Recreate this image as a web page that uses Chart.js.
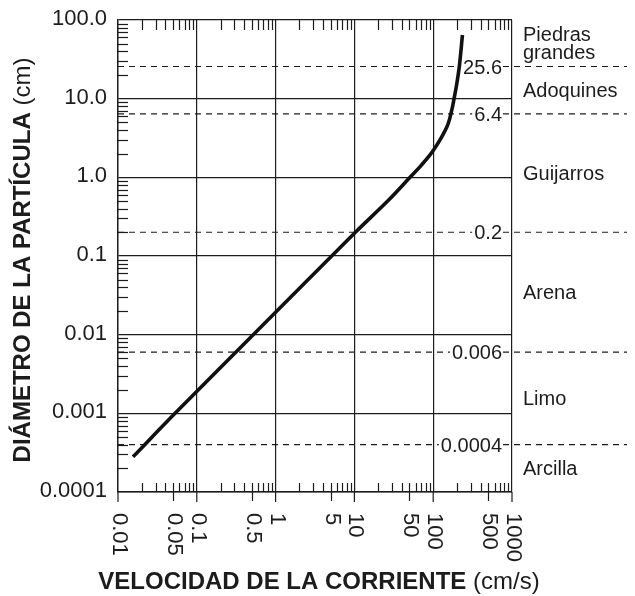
<!DOCTYPE html>
<html>
<head>
<meta charset="utf-8">
<script src="https://cdn.jsdelivr.net/npm/chart.js@4.4.1/dist/chart.umd.min.js"></script>
<style>
  html, body { margin: 0; padding: 0; background: #fff; }
  canvas { display: block; }
</style>
</head>
<body>
<canvas id="chart" width="635" height="596"></canvas>
<script>
// curva: velocidad de la corriente (cm/s) -> diámetro de la partícula (cm)
const velocity = [0.0155, 0.053, 0.52, 10.3, 27, 50.8, 70, 100.6, 149, 172, 184, 199.5, 215, 235];
const diameter = [0.00028, 0.001, 0.01, 0.2, 0.51, 1, 1.41, 2.21, 4.37, 7.14, 10, 15.6, 26.2, 64.4];

// límites entre clases (líneas discontinuas)
const boundaries = [25.6, 6.4, 0.2, 0.006, 0.0004];
const boundaryLabels = ["25.6", "6.4", "0.2", "0.006", "0.0004"];

// clases de sedimento, con su límite superior e inferior
const classNames = [["Piedras", "grandes"], ["Adoquines"], ["Guijarros"], ["Arena"], ["Limo"], ["Arcilla"]];
const classTop = [100, 25.6, 6.4, 0.2, 0.006, 0.0004];
const classBottom = [25.6, 6.4, 0.2, 0.006, 0.0004, 0.0001];

const xTickValues = [0.01, 0.05, 0.1, 0.5, 1, 5, 10, 50, 100, 500, 1000];
const xTickLabels = ["0.01", "0.05", "0.1", "0.5", "1", "5", "10", "50", "100", "500", "1000"];
const yTickValues = [100, 10, 1, 0.1, 0.01, 0.001, 0.0001];
const yTickLabels = ["100.0", "10.0", "1.0", "0.1", "0.01", "0.001", "0.0001"];

const FONT = '"Liberation Sans", Arial, Helvetica, sans-serif';
const INK = "#1c1c1c";

function isDecade(v) {
  const l = Math.log10(v);
  return Math.abs(l - Math.round(l)) < 1e-6;
}

// valores 2..9 de cada década
function minorValues(min, max) {
  const out = [];
  for (let e = Math.round(Math.log10(min)); e < Math.round(Math.log10(max)); e++) {
    for (let m = 2; m <= 9; m++) out.push({ v: m * Math.pow(10, e), m: m });
  }
  return out;
}

function line(ctx, x1, y1, x2, y2) {
  ctx.beginPath();
  ctx.moveTo(x1, y1);
  ctx.lineTo(x2, y2);
  ctx.stroke();
}

// dibuja un texto con una parte en negrita y otra normal
function mixedText(ctx, bold, normal, size) {
  ctx.font = "bold " + size + "px " + FONT;
  const wb = ctx.measureText(bold).width;
  ctx.font = size + "px " + FONT;
  const wn = ctx.measureText(normal).width;
  let x = -(wb + wn) / 2;
  ctx.textAlign = "left";
  ctx.font = "bold " + size + "px " + FONT;
  ctx.fillText(bold, x, 0);
  ctx.font = size + "px " + FONT;
  ctx.fillText(normal, x + wb, 0);
}

const sedimentPlugin = {
  id: "sediment",
  beforeDatasetsDraw(chart) {
    const { ctx, chartArea: a, scales: { y } } = chart;
    ctx.save();
    // líneas discontinuas de los límites
    ctx.strokeStyle = INK;
    ctx.lineWidth = 1.1;
    ctx.setLineDash([6, 5]);
    boundaries.forEach(b => {
      const py = y.getPixelForValue(b);
      line(ctx, a.left, py, chart.width - 8, py);
    });
    ctx.setLineDash([]);
    // etiquetas de los límites, dentro del gráfico
    ctx.font = "20px " + FONT;
    ctx.textAlign = "right";
    ctx.textBaseline = "alphabetic";
    boundaries.forEach((b, i) => {
      const py = y.getPixelForValue(b);
      const w = ctx.measureText(boundaryLabels[i]).width;
      const xr = a.right - 10;
      ctx.fillStyle = "#fff";
      ctx.fillRect(xr - w - 2, py - 9, w + 3, 18);
      ctx.fillStyle = INK;
      ctx.fillText(boundaryLabels[i], xr, py + 7);
    });
    ctx.restore();
  },
  afterDraw(chart) {
    const { ctx, chartArea: a, scales: { x, y } } = chart;
    ctx.save();
    ctx.strokeStyle = INK;
    ctx.lineWidth = 1.2;

    // marcas menores hacia dentro
    minorValues(y.min, y.max).forEach(t => {
      const py = Math.round(y.getPixelForValue(t.v)) + 0.5;
      line(ctx, a.left, py, a.left + 10, py);
    });
    minorValues(x.min, x.max).forEach(t => {
      const px = Math.round(x.getPixelForValue(t.v)) + 0.5;
      line(ctx, px, a.top, px, a.top + 10);
      line(ctx, px, a.bottom, px, a.bottom - 9);
      if (t.m === 5) line(ctx, px, a.bottom, px, a.bottom + 9);
    });
    // marcas mayores bajo el eje x
    xTickValues.filter(isDecade).forEach(v => {
      const px = x.getPixelForValue(v);
      line(ctx, px, a.bottom, px, a.bottom + 10);
    });

    ctx.fillStyle = INK;
    // etiquetas del eje y
    ctx.font = "22px " + FONT;
    ctx.textAlign = "right";
    ctx.textBaseline = "alphabetic";
    yTickValues.forEach((v, i) => {
      ctx.fillText(yTickLabels[i], a.left - 11, y.getPixelForValue(v) + 5);
    });

    // etiquetas del eje x, giradas 90° (se leen de arriba abajo)
    ctx.font = "22px " + FONT;
    ctx.textAlign = "left";
    ctx.textBaseline = "middle";
    xTickValues.forEach((v, i) => {
      ctx.save();
      ctx.translate(x.getPixelForValue(v) + 1, a.bottom + 21);
      ctx.rotate(Math.PI / 2);
      ctx.fillText(xTickLabels[i], 0, 0);
      ctx.restore();
    });

    // nombres de las clases a la derecha
    ctx.font = "20px " + FONT;
    ctx.textAlign = "left";
    ctx.textBaseline = "alphabetic";
    classNames.forEach((lines, i) => {
      const mid = Math.sqrt(classTop[i] * classBottom[i]);
      const py = y.getPixelForValue(mid);
      const lh = 18;
      const y0 = py - (lines.length - 1) * lh / 2 + 7;
      lines.forEach((t, j) => ctx.fillText(t, a.right + 11, y0 + j * lh));
    });

    // títulos de los ejes
    ctx.textBaseline = "alphabetic";
    ctx.save();
    ctx.translate((a.left + a.right) / 2 + 4, 589);
    mixedText(ctx, "VELOCIDAD DE LA CORRIENTE", " (cm/s)", 24);
    ctx.restore();

    ctx.save();
    ctx.translate(30, 260);
    ctx.rotate(-Math.PI / 2);
    mixedText(ctx, "DIÁMETRO DE LA PARTÍCULA", " (cm)", 24);
    ctx.restore();

    ctx.restore();
  }
};

const axisGrid = {
  color: INK,
  lineWidth: 1.2,
  drawTicks: false
};

new Chart(document.getElementById("chart"), {
  type: "line",
  data: {
    datasets: [{
      data: velocity.map((v, i) => ({ x: v, y: diameter[i] })),
      borderColor: "#111",
      borderWidth: 3.6,
      pointRadius: 0,
      fill: false,
      tension: 0.35,
      borderCapStyle: "butt"
    }]
  },
  options: {
    responsive: false,
    animation: false,
    events: [],
    layout: { padding: { left: 118, right: 123, top: 20, bottom: 104 } },
    plugins: { legend: { display: false }, tooltip: { enabled: false } },
    scales: {
      x: {
        type: "logarithmic",
        min: 0.01,
        max: 1000,
        grid: axisGrid,
        border: { display: true, color: INK, width: 1.4 },
        ticks: { display: false },
        afterBuildTicks: s => { s.ticks = s.ticks.filter(t => isDecade(t.value)); }
      },
      y: {
        type: "logarithmic",
        min: 0.0001,
        max: 100,
        grid: axisGrid,
        border: { display: true, color: INK, width: 1.4 },
        ticks: { display: false },
        afterBuildTicks: s => { s.ticks = s.ticks.filter(t => isDecade(t.value)); }
      }
    }
  },
  plugins: [sedimentPlugin]
});
</script>
</body>
</html>
